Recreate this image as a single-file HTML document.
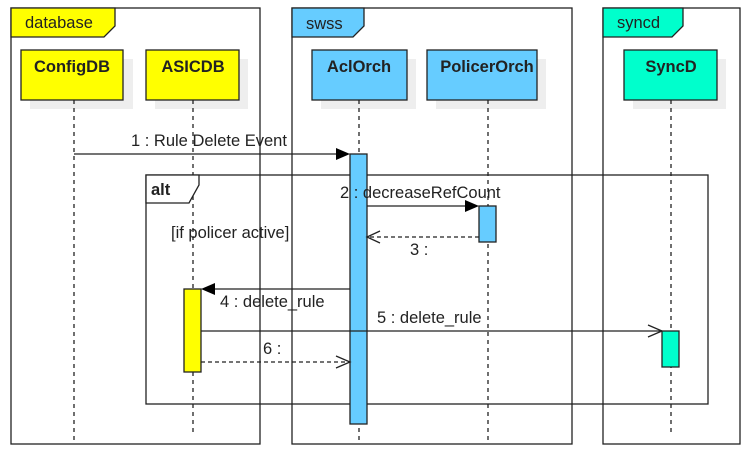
<!DOCTYPE html>
<html><head><style>body{margin:0;background:#fff}svg{display:block}text{font-family:"Liberation Sans",sans-serif;font-size:16.5px;fill:#222}</style></head><body>
<svg width="754" height="454" viewBox="0 0 754 454" xmlns="http://www.w3.org/2000/svg">
<rect width="754" height="454" fill="#fff"/>
<g stroke="#222" stroke-width="1.3">
<rect x="11" y="8" width="249" height="436" fill="none"/>
<path d="M11 8H115V26L104 37H11Z" fill="#ffff00"/>
<rect x="292" y="8" width="280" height="436" fill="none"/>
<path d="M292 8H364V26L353 37H292Z" fill="#66ccff"/>
<rect x="603" y="8" width="137" height="436" fill="none"/>
<path d="M603 8H683V26L672 37H603Z" fill="#00ffcc"/>
</g>
<text x="25" y="28">database</text>
<text x="306" y="29">swss</text>
<text x="617" y="28">syncd</text>
<g fill="#eee">
<rect x="30" y="59" width="103" height="50"/><rect x="155" y="59" width="93" height="50"/>
<rect x="321" y="59" width="95" height="50"/><rect x="436" y="59" width="110" height="50"/>
<rect x="633" y="59" width="93" height="50"/>
</g>
<g stroke="#222" stroke-width="1.3">
<rect x="21" y="50" width="102" height="50" fill="#ffff00"/>
<rect x="146" y="50" width="93" height="50" fill="#ffff00"/>
<rect x="312" y="50" width="95" height="50" fill="#66ccff"/>
<rect x="427" y="50" width="110" height="50" fill="#66ccff"/>
<rect x="624" y="50" width="93" height="50" fill="#00ffcc"/>
</g>
<g text-anchor="middle">
<text x="72" y="72" style="font-weight:bold">ConfigDB</text>
<text x="193" y="72" style="font-weight:bold">ASICDB</text>
<text x="359" y="72" style="font-weight:bold">AclOrch</text>
<text x="487" y="72" style="font-weight:bold">PolicerOrch</text>
<text x="671" y="72" style="font-weight:bold">SyncD</text>
</g>
<g stroke="#222" stroke-width="1.3" stroke-dasharray="4,4">
<line x1="74" y1="100" x2="74" y2="442"/><line x1="193" y1="100" x2="193" y2="434"/>
<line x1="359" y1="100" x2="359" y2="442"/><line x1="488" y1="100" x2="488" y2="442"/>
<line x1="671" y1="100" x2="671" y2="434"/>
</g>
<g stroke="#222" stroke-width="1.3">
<rect x="146" y="175" width="562" height="229" fill="none"/>
<path d="M146 175H199V185L189 203H146Z" fill="#fff"/>
</g>
<text x="151" y="195" style="font-weight:bold">alt</text>
<text x="171" y="238">[if policer active]</text>
<g stroke="#222" stroke-width="1.3">
<rect x="350" y="154" width="17" height="270" fill="#66ccff"/>
<rect x="479" y="206" width="17" height="36" fill="#66ccff"/>
<rect x="184" y="289" width="17" height="83" fill="#ffff00"/>
<rect x="662" y="331" width="17" height="36" fill="#00ffcc"/>
<line x1="74" y1="154" x2="337" y2="154"/>
<line x1="367" y1="206" x2="466" y2="206"/>
<line x1="479" y1="237" x2="367" y2="237" stroke-dasharray="4,3"/>
<polyline points="380,231 367,237 380,243" fill="none"/>
<line x1="350" y1="289" x2="214" y2="289"/>
<line x1="201" y1="331" x2="662" y2="331"/>
<polyline points="648,325 662,331 648,337" fill="none"/>
<line x1="201" y1="362" x2="350" y2="362" stroke-dasharray="4,3"/>
<polyline points="336,356 350,362 336,368" fill="none"/>
</g>
<g fill="#000">
<polygon points="336,148 350,154 336,160"/>
<polygon points="465,200 479,206 465,212"/>
<polygon points="215,283 201,289 215,295"/>
</g>
<text x="131" y="146">1 : Rule Delete Event</text>
<text x="340" y="198">2 : decreaseRefCount</text>
<text x="410" y="255">3 :</text>
<text x="220" y="307">4 : delete_rule</text>
<text x="377" y="323">5 : delete_rule</text>
<text x="263" y="354">6 :</text>
</svg>
</body></html>
